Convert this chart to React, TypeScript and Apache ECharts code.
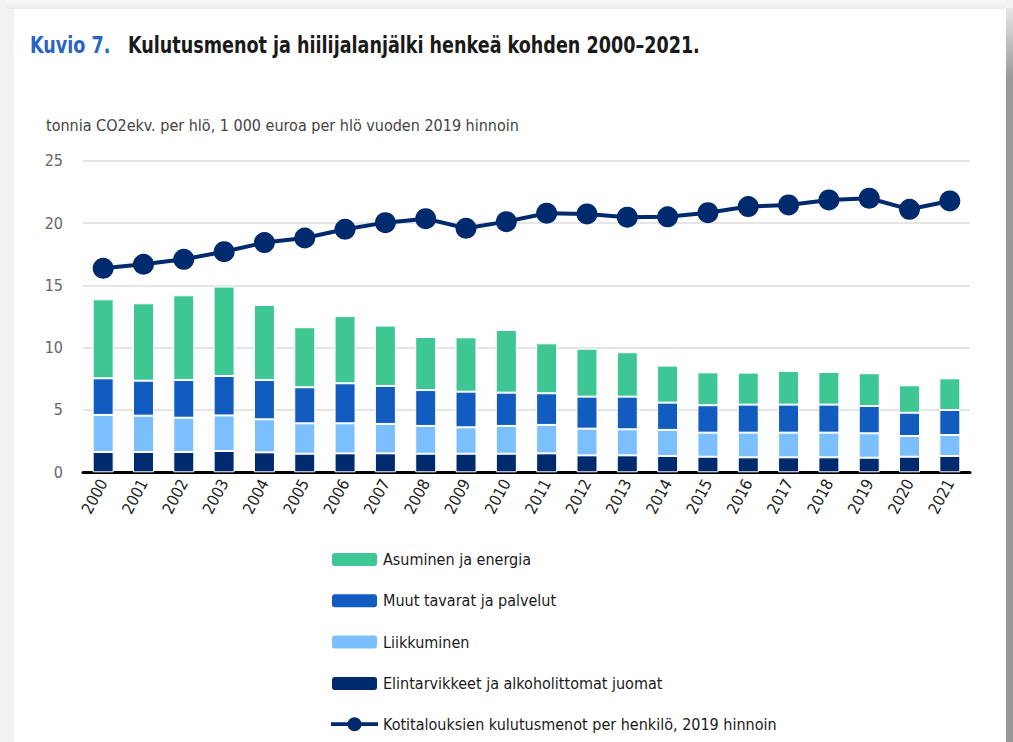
import React, { useEffect, useRef } from "react";
import * as echarts from "echarts";

const years = ["2000","2001","2002","2003","2004","2005","2006","2007","2008","2009","2010","2011","2012","2013","2014","2015","2016","2017","2018","2019","2020","2021"];
const food = [1.63,1.63,1.63,1.71,1.6,1.49,1.52,1.52,1.49,1.49,1.49,1.52,1.36,1.36,1.31,1.25,1.2,1.2,1.2,1.17,1.25,1.31];
const transport = [2.97,2.91,2.75,2.85,2.65,2.44,2.41,2.36,2.23,2.12,2.23,2.28,2.14,2.09,2.09,1.93,1.98,1.98,1.98,1.96,1.66,1.68];
const otherGoods = [2.94,2.81,3.03,3.17,3.16,2.89,3.21,3.05,2.88,2.86,2.67,2.54,2.57,2.62,2.19,2.2,2.25,2.25,2.25,2.19,1.87,2.01];
const housing = [6.34,6.21,6.79,7.17,6.02,4.82,5.4,4.84,4.26,4.36,5.03,4.01,3.85,3.56,2.97,2.64,2.57,2.7,2.62,2.63,2.2,2.54];
const spending = [16.37,16.69,17.09,17.7,18.43,18.8,19.5,20.03,20.35,19.58,20.11,20.79,20.73,20.47,20.5,20.83,21.32,21.45,21.85,21.99,21.1,21.77];

const names = {
  housing: "Asuminen ja energia",
  other: "Muut tavarat ja palvelut",
  transport: "Liikkuminen",
  food: "Elintarvikkeet ja alkoholittomat juomat",
  line: "Kotitalouksien kulutusmenot per henkilö, 2019 hinnoin",
};

const FONT = "'DejaVu Sans Condensed', 'Liberation Sans Narrow', 'Noto Sans', sans-serif";
const LINE_ICON = "path://M0,5.5L50,5.5L50,9.5L0,9.5Z M17.5,7.5A7.5,7.5 0 1,1 32.5,7.5A7.5,7.5 0 1,1 17.5,7.5Z";

export default function App() {
  const ref = useRef<HTMLDivElement>(null);
  useEffect(() => {
    if (!ref.current) return;
    const chart = echarts.init(ref.current, null, { renderer: "svg" });
    const barBase = (name: string, data: number[], color: string) => ({
      name,
      type: "bar",
      stack: "total",
      data,
      barWidth: 21,
      itemStyle: { color, borderColor: "#ffffff", borderWidth: 1 },
    });
    chart.setOption({
      animation: false,
      backgroundColor: "transparent",
      textStyle: { fontFamily: FONT },
      graphic: [
        {
          type: "text",
          x: 30,
          y: 33,
          scaleX: 0.85,
          style: { text: "Kuvio 7.", font: `bold 23px ${FONT}`, fill: "#2a63c6" },
        },
        {
          type: "text",
          x: 128,
          y: 33,
          scaleX: 0.85,
          style: {
            text: "Kulutusmenot ja hiilijalanjälki henkeä kohden 2000–2021.",
            font: `bold 23px ${FONT}`,
            fill: "#1a1a1a",
          },
        },
        {
          type: "text",
          x: 46,
          y: 117,
          style: {
            text: "tonnia CO2ekv. per hlö, 1 000 euroa per hlö vuoden 2019 hinnoin",
            font: `16px ${FONT}`,
            fill: "#444444",
          },
        },
      ],
      grid: { left: 83, right: 43, top: 160.7, bottom: 269.7, containLabel: false },
      legend: {
        orient: "vertical",
        left: 330,
        top: 551,
        padding: 0,
        height: 190,
        itemWidth: 47,
        itemHeight: 15,
        itemGap: 24.3,
        data: [
          names.housing,
          names.other,
          names.transport,
          names.food,
          { name: names.line, icon: LINE_ICON, itemStyle: { color: "#002a6e", borderWidth: 0 }, lineStyle: { width: 0 } },
        ],
        textStyle: { fontFamily: FONT, fontSize: 16, color: "#1a1a1a", padding: 0 },
      },
      xAxis: {
        type: "category",
        data: years,
        axisLine: { lineStyle: { color: "#000000", width: 3 } },
        axisTick: { show: false },
        axisLabel: { rotate: 62, fontFamily: FONT, fontSize: 16, color: "#222222", margin: 8 },
      },
      yAxis: {
        type: "value",
        min: 0,
        max: 25,
        interval: 5,
        axisLine: { show: false },
        axisTick: { show: false },
        axisLabel: { fontFamily: FONT, fontSize: 16, color: "#666666", margin: 20 },
        splitLine: { lineStyle: { color: "#dddddd", width: 1.5 } },
      },
      series: [
        barBase(names.food, food, "#002a6e"),
        barBase(names.transport, transport, "#7bbfff"),
        barBase(names.other, otherGoods, "#125bbf"),
        barBase(names.housing, housing, "#3ec695"),
        {
          name: names.line,
          type: "line",
          data: spending,
          symbol: "circle",
          symbolSize: 21,
          lineStyle: { color: "#002a6e", width: 4 },
          itemStyle: { color: "#002a6e" },
          z: 5,
        },
      ],
    });
    return () => chart.dispose();
  }, []);

  return (
    <div style={{ position: "fixed", left: 0, top: 0, width: 1013, height: 742, background: "#f2f2f2", overflow: "hidden" }}>
      <div style={{ position: "absolute", left: 6, top: 0, width: 1000, height: 9, background: "linear-gradient(to bottom, #f6f6f6, #ececec)" }} />
      <div style={{ position: "absolute", left: 1006, top: 8, width: 7, height: 734, background: "linear-gradient(to bottom, #e6e6e6, #999999 70px, #969696)" }} />
      <div style={{ position: "absolute", left: 14, top: 9, width: 992, height: 733, background: "#ffffff" }} />
      <div ref={ref} style={{ position: "absolute", left: 0, top: 0, width: 1013, height: 742 }} />
    </div>
  );
}
